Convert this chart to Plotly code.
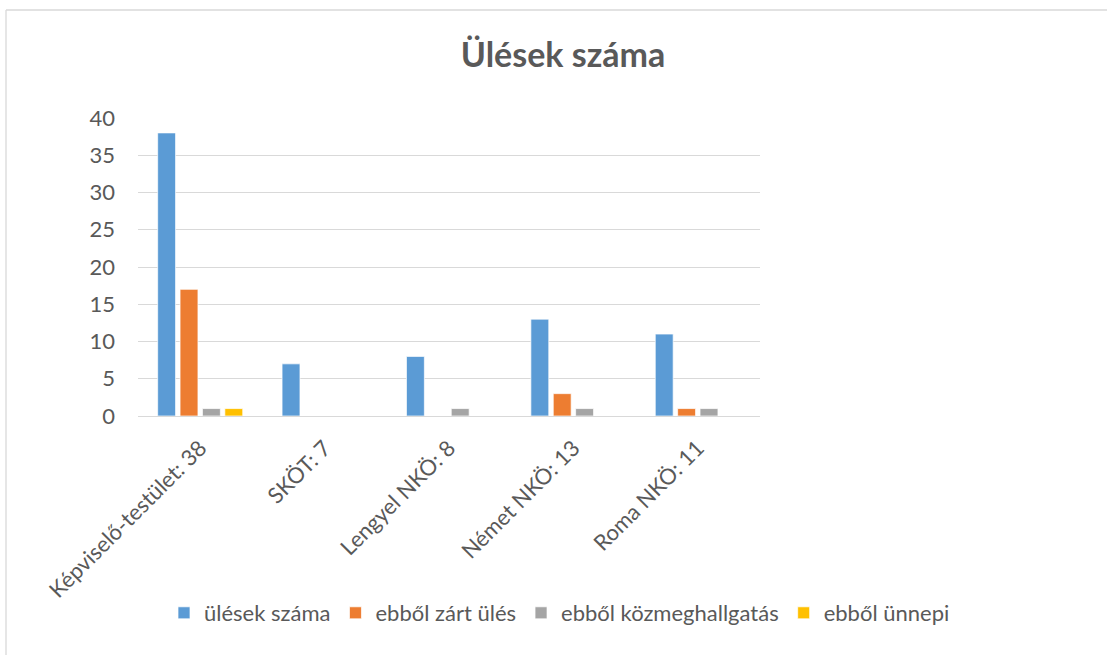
import plotly.graph_objects as go

categories = ["Képviselő-testület: 38", "SKÖT: 7", "Lengyel NKÖ: 8", "Német NKÖ: 13", "Roma NKÖ: 11"]
series_names = ["ülések száma", "ebből zárt ülés", "ebből közmeghallgatás", "ebből ünnepi"]
ulesek = [38, 7, 8, 13, 11]
zart = [17, 0, 0, 3, 1]
kozmeghallgatas = [1, 0, 1, 1, 1]
unnepi = [1, 0, 0, 0, 0]
colors = ["#5B9BD5", "#ED7D31", "#A5A5A5", "#FFC000"]
y_ticks = [0, 5, 10, 15, 20, 25, 30, 35, 40]

FONT = "Lato, Open Sans, sans-serif"
TXT = "#595959"

fig = go.Figure()
for name, vals, col in zip(series_names, [ulesek, zart, kozmeghallgatas, unnepi], colors):
    fig.add_trace(go.Bar(
        x=categories, y=vals, name=name,
        marker=dict(color=col, line=dict(color="white", width=0.7)),
    ))

W, H = 1107, 655
L, R, T, B = 138, 347, 118, 239
pw = W - L - R
ph = H - T - B

fig.update_layout(
    width=W, height=H,
    margin=dict(l=L, r=R, t=T, b=B, pad=0),
    paper_bgcolor="white", plot_bgcolor="white",
    barmode="group", bargap=0.28, bargroupgap=0.2,
    font=dict(family=FONT, color=TXT, size=22),
    title=dict(
        text="<b>Ülések száma</b>",
        x=563 / W, xref="container", xanchor="center",
        y=1 - 55 / H, yref="container", yanchor="middle",
        font=dict(size=34, color=TXT, family=FONT),
    ),
    xaxis=dict(
        showgrid=False, showline=False, ticks="",
        tickangle=-45, tickfont=dict(size=22, color=TXT),
        ticklabelstandoff=14,
    ),
    yaxis=dict(
        range=[0, 40], tickvals=y_ticks, showgrid=True,
        gridcolor="#D9D9D9", gridwidth=1.3, zeroline=True,
        zerolinecolor="#D9D9D9", zerolinewidth=1.3,
        showline=False, ticks="", tickfont=dict(size=22, color=TXT),
        ticklabelstandoff=22,
    ),
    legend=dict(
        orientation="h", xref="paper", x=(955 - L) / pw, xanchor="right",
        yref="paper", y=(H - B - 613) / ph, yanchor="middle",
        font=dict(size=22, color=TXT),
        traceorder="normal",
    ),
    showlegend=True,
)

# chart area border (top and left edges visible)
fig.add_shape(type="line", xref="paper", yref="paper",
              x0=(6 - L) / pw, x1=(W + 10 - L) / pw,
              y0=(H - B - 10) / ph, y1=(H - B - 10) / ph,
              line=dict(color="#D9D9D9", width=1.3))
fig.add_shape(type="line", xref="paper", yref="paper",
              x0=(6 - L) / pw, x1=(6 - L) / pw,
              y0=(H - B - 10) / ph, y1=(H - B - H - 10) / ph,
              line=dict(color="#D9D9D9", width=1.3))

fig.write_html("out.html", config={"displayModeBar": False},
               post_script="document.body.style.margin='0';document.body.style.overflow='hidden';")
